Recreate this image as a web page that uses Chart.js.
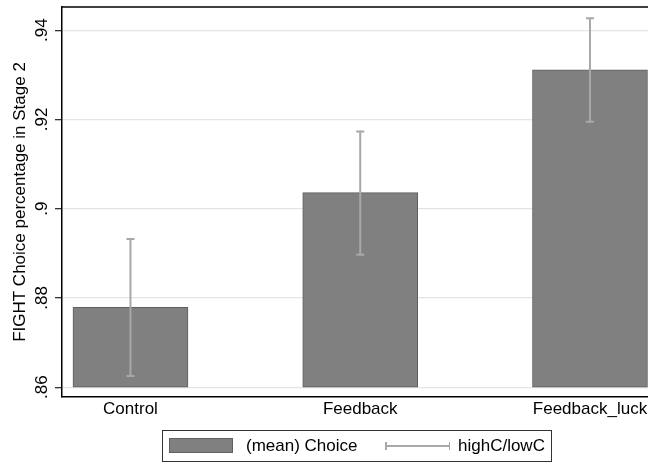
<!DOCTYPE html>
<html>
<head>
<meta charset="utf-8">
<script src="https://cdn.jsdelivr.net/npm/chart.js@4.4.1/dist/chart.umd.min.js"></script>
<style>
  html, body { margin: 0; padding: 0; background: #fff; }
  #wrap { position: relative; width: 648px; height: 463px; }
  #legend {
    position: absolute; left: 162px; top: 430px; width: 388px; height: 30px;
    border: 1.5px solid #333; box-sizing: content-box;
    font-family: "Liberation Sans", Arial, sans-serif; font-size: 17px; color: #000;
  }
  #legend .swatch {
    position: absolute; left: 6px; top: 7px; width: 64px; height: 15px;
    background: #808080; border: 1px solid #606060; box-sizing: border-box;
  }
  #legend .lbl { position: absolute; top: 5px; line-height: 20px; white-space: nowrap; }
  #legend .ebar { position: absolute; left: 222px; top: 14px; width: 65px; height: 1.5px; background: #a8a8a8; }
  #legend .ebar::before, #legend .ebar::after {
    content: ""; position: absolute; top: -3px; width: 1.5px; height: 8px; background: #a8a8a8;
  }
  #legend .ebar::before { left: 0; }
  #legend .ebar::after { right: 0; }
</style>
</head>
<body>
<div id="wrap">
  <canvas id="chart" width="648" height="463"></canvas>
  <div id="legend">
    <div class="swatch"></div>
    <div class="lbl" style="left: 83px;">(mean) Choice</div>
    <div class="ebar"></div>
    <div class="lbl" style="left: 295px;">highC/lowC</div>
  </div>
</div>
<script>
// Values
const categories = ['Control', 'Feedback', 'Feedback_luck'];
const meanChoice = [0.8779, 0.9036, 0.9311];
const highC = [0.8932, 0.9173, 0.9427];
const lowC = [0.8625, 0.8897, 0.9195];
const yTicks = [0.86, 0.88, 0.90, 0.92, 0.94];
const yTickLabels = ['.86', '.88', '.9', '.92', '.94'];
const barBase = 0.86;

const FONT = '"Liberation Sans", Arial, sans-serif';

// error bars + top frame line
const errorBarPlugin = {
    id: 'errorBars',
    afterDatasetsDraw(chart) {
        const ctx = chart.ctx;
        const xs = chart.scales.x;
        const ys = chart.scales.y;
        ctx.save();
        ctx.strokeStyle = '#a8a8a8';
        ctx.lineWidth = 2;
        categories.forEach((c, i) => {
            const x = xs.getPixelForValue(i + 1);
            const yHi = ys.getPixelForValue(highC[i]);
            const yLo = ys.getPixelForValue(lowC[i]);
            ctx.beginPath();
            ctx.moveTo(x, yHi);
            ctx.lineTo(x, yLo);
            ctx.moveTo(x - 4, yHi);
            ctx.lineTo(x + 4, yHi);
            ctx.moveTo(x - 4, yLo);
            ctx.lineTo(x + 4, yLo);
            ctx.stroke();
        });
        const a = chart.chartArea;
        ctx.strokeStyle = '#000';
        ctx.lineWidth = 1.5;
        ctx.beginPath();
        ctx.moveTo(a.left, a.top);
        ctx.lineTo(a.right, a.top);
        ctx.stroke();
        ctx.restore();
    }
};

const ctx = document.getElementById('chart').getContext('2d');
new Chart(ctx, {
    type: 'bar',
    data: {
        datasets: [{
            label: '(mean) Choice',
            data: meanChoice.map((v, i) => ({ x: i + 1, y: [barBase, v] })),
            backgroundColor: '#808080',
            borderColor: '#5e5e5e',
            borderWidth: 1,
            borderSkipped: false,
            barThickness: 115
        }]
    },
    options: {
        responsive: false,
        animation: false,
        layout: { padding: { top: 7, right: 0, bottom: 26, left: 0 } },
        plugins: {
            legend: { display: false },
            tooltip: { enabled: false }
        },
        scales: {
            x: {
                type: 'linear',
                offset: false,
                min: 0.702,
                max: 3.2525,
                grid: { display: false, drawTicks: false },
                border: { color: '#000', width: 1.5 },
                afterBuildTicks: scale => {
                    scale.ticks = categories.map((c, i) => ({ value: i + 1 }));
                },
                afterFit: scale => {
                    scale.height = 40;
                    scale.paddingLeft = 0;
                    scale.paddingRight = 0;
                },
                ticks: {
                    autoSkip: false,
                    maxRotation: 0,
                    padding: 2,
                    color: '#000',
                    font: { family: FONT, size: 17 },
                    callback: v => categories[v - 1]
                }
            },
            y: {
                min: 0.8578,
                max: 0.9452,
                afterBuildTicks: scale => {
                    scale.ticks = yTicks.map(v => ({ value: v }));
                },
                afterFit: scale => {
                    scale.width = 62;
                    scale.paddingTop = 0;
                    scale.paddingBottom = 0;
                },
                grid: {
                    color: '#e4e4e4',
                    lineWidth: 1.3,
                    tickColor: '#333',
                    tickLength: 7
                },
                border: { color: '#000', width: 1.5 },
                ticks: {
                    minRotation: 90,
                    maxRotation: 90,
                    crossAlign: 'center',
                    padding: 1,
                    color: '#000',
                    font: { family: FONT, size: 17 },
                    callback: (v, i) => yTickLabels[i]
                },
                title: {
                    display: true,
                    text: 'FIGHT Choice percentage in Stage 2',
                    color: '#000',
                    font: { family: FONT, size: 17 },
                    padding: { top: 10, bottom: 0 }
                }
            }
        }
    },
    plugins: [errorBarPlugin]
});
</script>
</body>
</html>
